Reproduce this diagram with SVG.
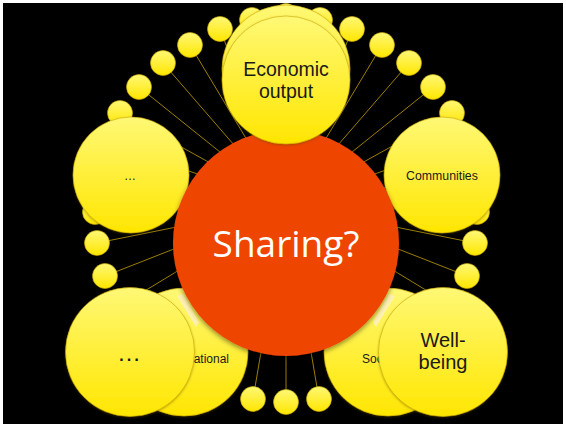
<svg xmlns="http://www.w3.org/2000/svg" width="566" height="427" viewBox="0 0 566 427">
<defs>
<linearGradient id="yg" x1="0" y1="0" x2="0" y2="1">
<stop offset="0" stop-color="#FFF875"/>
<stop offset="1" stop-color="#FFE600"/>
</linearGradient>
<filter id="sh" x="-20%" y="-20%" width="140%" height="140%">
<feDropShadow dx="0" dy="2" stdDeviation="2.5" flood-color="#000" flood-opacity="0.45"/>
</filter>
<filter id="sh2" x="-20%" y="-20%" width="140%" height="140%">
<feDropShadow dx="0" dy="1" stdDeviation="1.2" flood-color="#5a4a00" flood-opacity="0.45"/>
</filter>
</defs>
<style>
.ball{fill:url(#yg);stroke:#C9A800;stroke-width:0.6}
.big{fill:url(#yg);stroke:#C9A800;stroke-width:0.6;filter:url(#sh2)}
.con line{stroke:#9A7E00;stroke-width:1}
.lbl{font-family:"Liberation Sans",Arial,sans-serif;fill:#1a1a1a}
</style>
<rect x="0" y="0" width="566" height="427" fill="#fff"/>
<rect x="3" y="3" width="560" height="421" fill="#000"/>
<g id="connectors" class="con">
<line x1="252" y1="20" x2="286" y2="205"/><line x1="320" y1="20" x2="286" y2="205"/>
<line x1="220" y1="29" x2="286" y2="205"/><line x1="352" y1="29" x2="286" y2="205"/>
<line x1="190" y1="45" x2="286" y2="205"/><line x1="382" y1="45" x2="286" y2="205"/>
<line x1="163" y1="63" x2="286" y2="205"/><line x1="409" y1="63" x2="286" y2="205"/>
<line x1="139" y1="87" x2="286" y2="205"/><line x1="433" y1="87" x2="286" y2="205"/>
<line x1="120" y1="113" x2="286" y2="205"/><line x1="452" y1="113" x2="286" y2="205"/>
<line x1="106" y1="142" x2="286" y2="205"/><line x1="466" y1="142" x2="286" y2="205"/>
<line x1="98" y1="172" x2="286" y2="205"/><line x1="474" y1="172" x2="286" y2="205"/>
<line x1="95" y1="212" x2="286" y2="205"/><line x1="477" y1="212" x2="286" y2="205"/>
<line x1="97" y1="243" x2="286" y2="205"/><line x1="475" y1="243" x2="286" y2="205"/>
<line x1="105" y1="276" x2="286" y2="205"/><line x1="467" y1="276" x2="286" y2="205"/>
<line x1="120" y1="306" x2="286" y2="205"/><line x1="452" y1="306" x2="286" y2="205"/>
<line x1="142" y1="334" x2="286" y2="205"/><line x1="430" y1="334" x2="286" y2="205"/>
<line x1="168" y1="358" x2="286" y2="205"/><line x1="404" y1="358" x2="286" y2="205"/>
<line x1="196" y1="378" x2="286" y2="205"/><line x1="376" y1="378" x2="286" y2="205"/>
<line x1="216" y1="388" x2="286" y2="205"/><line x1="356" y1="388" x2="286" y2="205"/>
<line x1="253" y1="399" x2="286" y2="205"/><line x1="319" y1="399" x2="286" y2="205"/>
<line x1="286" y1="402" x2="286" y2="205"/>
</g>
<g id="ring">
<circle class="ball" cx="286" cy="16" r="12.5"/>
<circle class="ball" cx="252" cy="20" r="12.5"/><circle class="ball" cx="320" cy="20" r="12.5"/>
<circle class="ball" cx="220" cy="29" r="12.5"/><circle class="ball" cx="352" cy="29" r="12.5"/>
<circle class="ball" cx="190" cy="45" r="12.5"/><circle class="ball" cx="382" cy="45" r="12.5"/>
<circle class="ball" cx="163" cy="63" r="12.5"/><circle class="ball" cx="409" cy="63" r="12.5"/>
<circle class="ball" cx="139" cy="87" r="12.5"/><circle class="ball" cx="433" cy="87" r="12.5"/>
<circle class="ball" cx="120" cy="113" r="12.5"/><circle class="ball" cx="452" cy="113" r="12.5"/>
<circle class="ball" cx="106" cy="142" r="12.5"/><circle class="ball" cx="466" cy="142" r="12.5"/>
<circle class="ball" cx="98" cy="172" r="12.5"/><circle class="ball" cx="474" cy="172" r="12.5"/>
<circle class="ball" cx="95" cy="212" r="12.5"/><circle class="ball" cx="477" cy="212" r="12.5"/>
<circle class="ball" cx="97" cy="243" r="12.5"/><circle class="ball" cx="475" cy="243" r="12.5"/>
<circle class="ball" cx="105" cy="276" r="12.5"/><circle class="ball" cx="467" cy="276" r="12.5"/>
<circle class="ball" cx="120" cy="306" r="12.5"/><circle class="ball" cx="452" cy="306" r="12.5"/>
<circle class="ball" cx="142" cy="334" r="12.5"/><circle class="ball" cx="430" cy="334" r="12.5"/>
<circle class="ball" cx="168" cy="358" r="12.5"/><circle class="ball" cx="404" cy="358" r="12.5"/>
<circle class="ball" cx="196" cy="378" r="12.5"/><circle class="ball" cx="376" cy="378" r="12.5"/>
<circle class="ball" cx="216" cy="388" r="12.5"/><circle class="ball" cx="356" cy="388" r="12.5"/>
<circle class="ball" cx="253" cy="399" r="12.5"/><circle class="ball" cx="319" cy="399" r="12.5"/>
<circle class="ball" cx="286" cy="402" r="12.5"/>
</g>
<g id="dots-upper">
<circle class="big" cx="131" cy="175" r="58"/>
<text class="lbl" x="130" y="180" font-size="12" text-anchor="middle">…</text>
</g>
<g id="communities">
<circle class="big" cx="442" cy="175" r="58"/>
<text class="lbl" x="442" y="180" font-size="12.3" text-anchor="middle">Communities</text>
</g>
<g id="educational">
<circle class="big" cx="184" cy="352" r="64"/>
<text class="lbl" x="229" y="363" font-size="12" text-anchor="end">Educational</text>
</g>
<g id="social">
<circle class="big" cx="388" cy="352" r="64"/>
<text class="lbl" x="362" y="363" font-size="12">Social</text>
</g>
<polygon points="177,296 183,294 199,322 196,327" fill="#FFF1B0"/>
<polygon points="395,296 389,294 373,322 376,327" fill="#FFF1B0"/>
<g id="dots-lower">
<circle class="big" cx="130" cy="352" r="64.5"/>
<text class="lbl" x="129" y="361" font-size="24" text-anchor="middle">…</text>
</g>
<g id="wellbeing">
<circle class="big" cx="443" cy="352" r="64.5"/>
<text class="lbl" x="443" y="347" font-size="20" text-anchor="middle">Well-</text>
<text class="lbl" x="443" y="369" font-size="20" text-anchor="middle">being</text>
</g>
<g id="sharing">
<circle cx="286" cy="243" r="113" fill="#EE4400" filter="url(#sh)"/>
<text x="286" y="257" font-family="'Open Sans','DejaVu Sans',sans-serif" font-size="37" fill="#fff" text-anchor="middle">Sharing?</text>
</g>
<g id="economic">
<circle class="big" cx="286" cy="69" r="64"/>
<circle class="big" cx="286" cy="80" r="64"/>
<text class="lbl" x="286" y="76" font-size="19.5" text-anchor="middle">Economic</text>
<text class="lbl" x="286" y="98" font-size="19.5" text-anchor="middle">output</text>
</g>
</svg>
